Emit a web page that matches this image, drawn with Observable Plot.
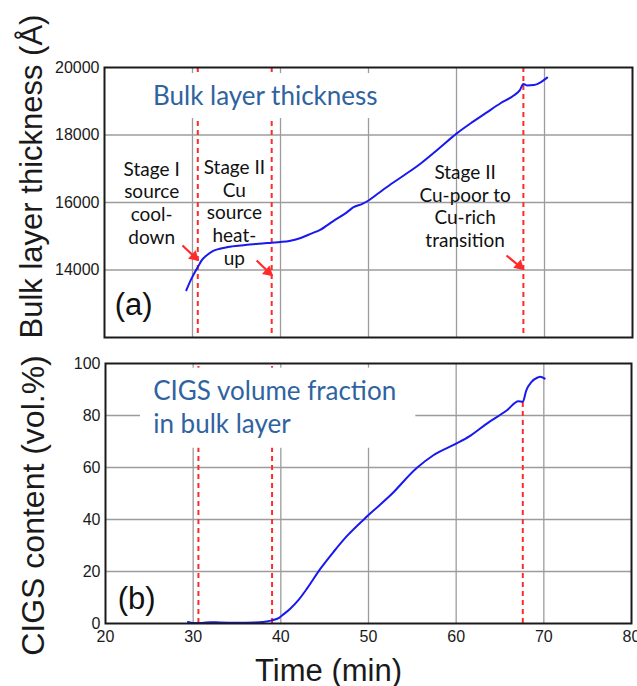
<!DOCTYPE html>
<html><head><meta charset="utf-8">
<script src="https://cdn.jsdelivr.net/npm/d3@7"></script>
<script src="https://cdn.jsdelivr.net/npm/@observablehq/plot@0.6"></script>
<style>
body{margin:0;background:#fff;}
#fig{position:relative;width:637px;height:686px;overflow:hidden;background:#fff;}
#fig svg{position:absolute;left:0;}
</style></head><body><div id="fig"></div>
<script>
// ---- data ----
const thicknessTime  = [29.3, 29.8, 30.3, 30.6, 31.0, 31.6, 32.3, 33.1, 34.5, 36.0, 37.5, 39.0, 40.0, 41.0, 42.3, 43.5, 44.5, 46.0, 47.5, 48.3, 49.3, 50.0, 51.0, 52.1, 54.0, 55.9, 58.0, 60.0, 61.8, 63.5, 65.0, 66.5, 67.2, 67.6, 68.0, 68.8, 69.6, 70.3];
const thicknessValue = [13400, 13700, 13950, 14080, 14270, 14430, 14560, 14630, 14700, 14740, 14780, 14810, 14830, 14860, 14950, 15080, 15190, 15450, 15700, 15860, 15960, 16060, 16250, 16460, 16800, 17150, 17600, 18040, 18380, 18680, 18940, 19170, 19330, 19510, 19470, 19480, 19570, 19700];
const cigsTime  = [29.4, 30.0, 31.0, 32.0, 33.0, 35.0, 37.0, 38.0, 39.0, 39.8, 40.3, 41.1, 42.0, 43.0, 44.5, 46.0, 47.5, 50.0, 52.5, 55.5, 57.4, 60.0, 61.5, 63.5, 65.8, 67.1, 67.6, 68.0, 68.6, 69.3, 69.6, 70.1];
const cigsValue = [0.6, 0.2, 0.2, 0.5, 0.4, 0.3, 0.4, 0.6, 1.2, 2.2, 3.5, 5.8, 9.0, 13.5, 21.0, 27.5, 33.5, 41.7, 49.3, 59.8, 64.7, 69.2, 72.0, 76.9, 82.0, 85.5, 85.3, 89.7, 92.9, 94.6, 94.9, 94.2];

const timeTicks = [20, 30, 40, 50, 60, 70, 80];
const timeGrid = [30, 40, 50, 60, 70];
const thicknessTicks = [14000, 16000, 18000, 20000];
const thicknessGrid = [14000, 16000, 18000];
const cigsTicks = [0, 20, 40, 60, 80, 100];
const cigsGrid = [20, 40, 60, 80];

// stage transition times (red dashed lines)
const stageTimes = [30.6, 39.0, 67.6];
const stageTopCigs = [100, 100, 86];

// annotation anchors (data units)
const stageLines = ["Stage I", "source", "cool-", "down",
                    "Stage II", "Cu", "source", "heat-", "up",
                    "Stage II", "Cu-poor to", "Cu-rich", "transition"];
const stageLineX = [25.36, 25.36, 25.36, 25.36,
                    34.76, 34.76, 34.76, 34.76, 34.76,
                    60.98, 60.98, 60.98, 60.98];
const stageLineY = [16800, 16127, 15454, 14781,
                    16850, 16177, 15504, 14831, 14158,
                    16702, 16029, 15356, 14683];
const arrowX1 = [28.86, 37.29, 65.68];
const arrowY1 = [14726, 14281, 14430];
const arrowX2 = [30.60, 39.00, 67.55];
const arrowY2 = [14300, 13850, 14030];

const labelBoxTop = {x1: 24.0, x2: 53.0, y1: 18489, y2: 19822};
const labelBoxBottom = {x1: 24.0, x2: 55.4, y1: 67.4, y2: 98.2};

// ---- build tables ----
const thickRows = thicknessTime.map((t, i) => ({t, v: thicknessValue[i]}));
const cigsRows = cigsTime.map((t, i) => ({t, v: cigsValue[i]}));
const stageRows = stageLines.map((s, i) => ({s, x: stageLineX[i], y: stageLineY[i]}));
const arrowRows = arrowX1.map((x, i) => ({x1: x, y1: arrowY1[i], x2: arrowX2[i], y2: arrowY2[i]}));
const stageRowsB = stageTimes.map((t, i) => ({t, top: stageTopCigs[i]}));

const GRID = "#9c9c9c", RED = "#ff2b2b", BLUE = "#1818f0", NOTE = "#2f63a0";
const ARIAL = "Liberation Sans, Arial, sans-serif";
const CAL = "Lato, 'Open Sans', sans-serif";

function arrows() {
  return [
    Plot.link(arrowRows, {x1: "x1", y1: "y1", x2: "x2", y2: "y2", stroke: RED, strokeWidth: 2.2}),
    Plot.dot(arrowRows, {x: "x2", y: "y2", symbol: "triangle", r: 4.2, fill: RED, stroke: null, rotate: 132, dx: -3.5, dy: -3.2})
  ];
}

const topPlot = Plot.plot({
  width: 637, height: 340,
  marginLeft: 104, marginRight: 5, marginTop: 67, marginBottom: 3,
  style: {fontFamily: ARIAL, color: "#1a1a1a", background: "transparent"},
  x: {domain: [20, 80], axis: null},
  y: {domain: [12000, 20000], axis: null},
  marks: [
    Plot.gridX({ticks: timeGrid, stroke: GRID, strokeOpacity: 1, strokeWidth: 1.3}),
    Plot.gridY({ticks: thicknessGrid, stroke: GRID, strokeOpacity: 1, strokeWidth: 1.3}),
    Plot.ruleX(stageTimes, {stroke: RED, strokeWidth: 2, strokeDasharray: "5,4"}),
    Plot.rect([labelBoxTop], {x1: "x1", x2: "x2", y1: "y1", y2: "y2", fill: "white"}),
    Plot.line(thickRows, {x: "t", y: "v", stroke: BLUE, strokeWidth: 2, curve: "monotone-x"}),
    Plot.axisY({ticks: thicknessTicks, tickSize: 0, tickPadding: 5, fontSize: 16, tickFormat: d => String(d), label: null}),
    Plot.text(["Bulk layer thickness (Å)"], {frameAnchor: "left", rotate: -90, dx: -72, dy: -26, fontSize: 31, textAnchor: "middle", lineAnchor: "middle", fontFamily: ARIAL}),
    Plot.text(["Bulk layer thickness"], {x: () => 25.51, y: () => 18895, textAnchor: "start", lineAnchor: "bottom", fontSize: 26, fill: NOTE, fontFamily: CAL}),
    Plot.text(stageRows, {x: "x", y: "y", text: "s", textAnchor: "middle", lineAnchor: "bottom", fontSize: 19, fill: "#111", fontFamily: CAL}),
    Plot.text(["(a)"], {x: () => 21.16, y: () => 12652, textAnchor: "start", lineAnchor: "bottom", fontSize: 31, fontFamily: ARIAL, fill: "#111"}),
    ...arrows(),
    Plot.frame({stroke: "#1a1a1a", strokeWidth: 2})
  ]
});

const bottomPlot = Plot.plot({
  width: 637, height: 346,
  marginLeft: 105, marginRight: 6, marginTop: 23, marginBottom: 63,
  style: {fontFamily: ARIAL, color: "#1a1a1a", background: "transparent"},
  x: {domain: [20, 80], axis: null},
  y: {domain: [0, 100], axis: null},
  marks: [
    Plot.gridX({ticks: timeGrid, stroke: GRID, strokeOpacity: 1, strokeWidth: 1.3}),
    Plot.gridY({ticks: cigsGrid, stroke: GRID, strokeOpacity: 1, strokeWidth: 1.3}),
    Plot.ruleX(stageRowsB, {x: "t", y1: 0, y2: "top", stroke: RED, strokeWidth: 2, strokeDasharray: "5,4"}),
    Plot.rect([labelBoxBottom], {x1: "x1", x2: "x2", y1: "y1", y2: "y2", fill: "white"}),
    Plot.line(cigsRows, {x: "t", y: "v", stroke: BLUE, strokeWidth: 2, curve: "monotone-x"}),
    Plot.axisY({ticks: cigsTicks, tickSize: 0, tickPadding: 5, fontSize: 16, label: null}),
    Plot.axisX({ticks: timeTicks, tickSize: 0, tickPadding: 7, fontSize: 16, label: null}),
    Plot.text(["CIGS content (vol.%)"], {frameAnchor: "left", rotate: -90, dx: -72, dy: 12, fontSize: 32, textAnchor: "middle", lineAnchor: "middle", fontFamily: ARIAL}),
    Plot.text(["Time (min)"], {frameAnchor: "bottom", dx: -40, dy: 57, fontSize: 31, textAnchor: "middle", lineAnchor: "bottom", fontFamily: ARIAL}),
    Plot.text(["CIGS volume fraction", "in bulk layer"], {x: () => 25.44, y: (d, i) => [86.15, 73.1][i], textAnchor: "start", lineAnchor: "bottom", fontSize: 26, fill: NOTE, fontFamily: CAL}),
    Plot.text(["(b)"], {x: () => 21.39, y: () => 5.5, textAnchor: "start", lineAnchor: "bottom", fontSize: 31, fontFamily: ARIAL, fill: "#111"}),
    Plot.frame({stroke: "#1a1a1a", strokeWidth: 2})
  ]
});

topPlot.style.top = "0px";
bottomPlot.style.top = "340px";
const fig = document.getElementById("fig");
fig.appendChild(topPlot);
fig.appendChild(bottomPlot);
</script>
</body></html>
